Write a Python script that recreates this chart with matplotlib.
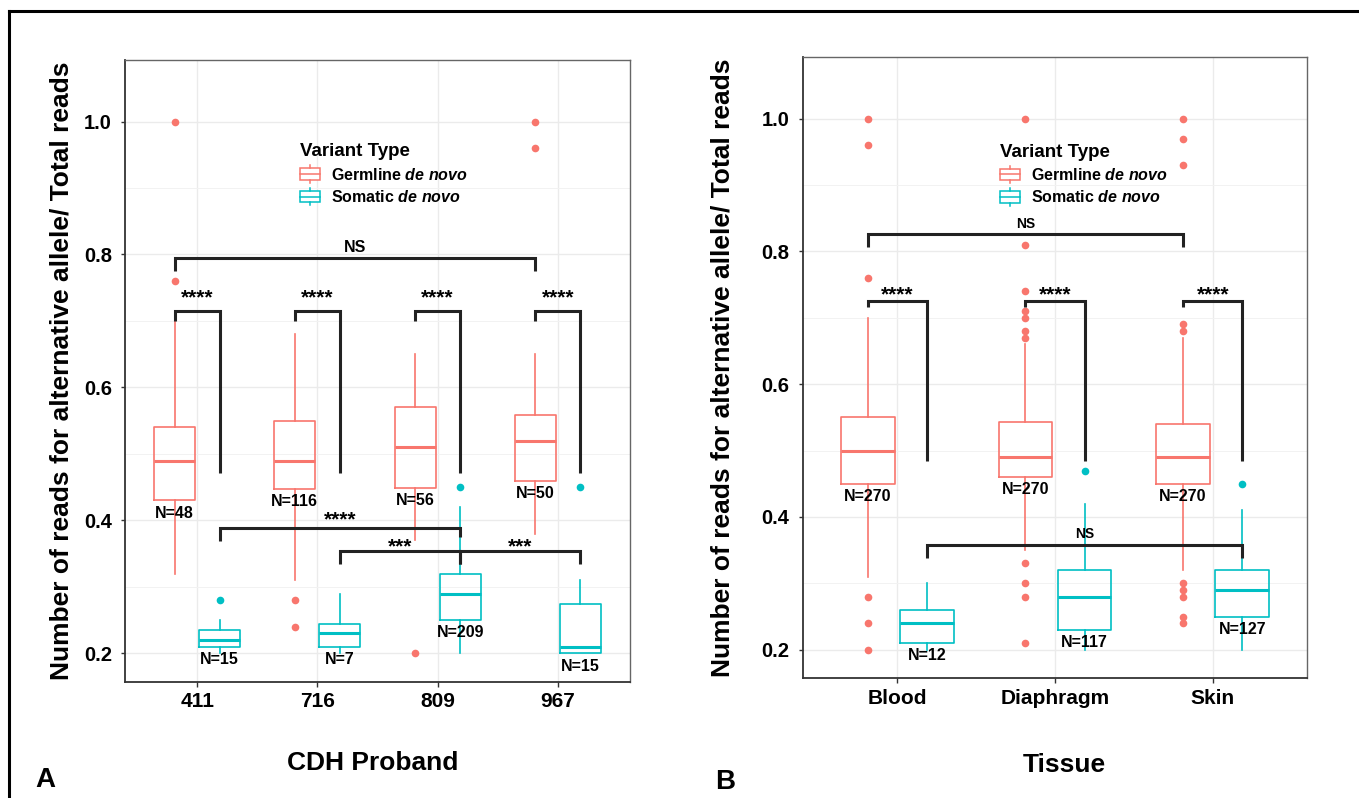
import matplotlib
matplotlib.use("Agg")
import matplotlib.pyplot as plt
from matplotlib.legend_handler import HandlerBase
from matplotlib.patches import Rectangle, Patch
from matplotlib.lines import Line2D
from matplotlib.ticker import FixedLocator

plt.rcParams['font.family'] = ['Liberation Sans', 'DejaVu Sans']
plt.rcParams['font.weight'] = 'bold'
plt.rcParams['mathtext.fontset'] = 'custom'
plt.rcParams['mathtext.it'] = 'Liberation Sans:italic:bold'
plt.rcParams['mathtext.rm'] = 'Liberation Sans:bold'

GERM = '#F8766D'
SOMA = '#00BFC4'
INK = '#222222'

# ---------------- Panel A: CDH proband ----------------
a_probands = ['411', '716', '809', '967']
a_germ_n = [48, 116, 56, 50]
a_germ_lo = [0.32, 0.31, 0.37, 0.38]
a_germ_q1 = [0.43, 0.447, 0.449, 0.46]
a_germ_med = [0.49, 0.49, 0.51, 0.52]
a_germ_q3 = [0.541, 0.549, 0.571, 0.559]
a_germ_hi = [0.70, 0.68, 0.65, 0.65]
a_germ_out = [[1.0, 0.76], [0.28, 0.24], [0.20], [1.0, 0.96]]

a_som_n = [15, 7, 209, 15]
a_som_lo = [0.20, 0.20, 0.20, 0.20]
a_som_q1 = [0.21, 0.21, 0.25, 0.20]
a_som_med = [0.22, 0.23, 0.29, 0.21]
a_som_q3 = [0.235, 0.244, 0.32, 0.274]
a_som_hi = [0.25, 0.29, 0.42, 0.31]
a_som_out = [[0.28], [], [0.45], [0.45]]

# significance brackets: (group1, side1, group2, side2, bar y, left tip, right tip, label, label y, size)
a_signif = [
    (1, -1, 1, 1, 0.715, 0.700, 0.472, '****', 0.735, 15),
    (2, -1, 2, 1, 0.715, 0.700, 0.472, '****', 0.735, 15),
    (3, -1, 3, 1, 0.715, 0.700, 0.472, '****', 0.735, 15),
    (4, -1, 4, 1, 0.715, 0.700, 0.472, '****', 0.735, 15),
    (1, -1, 4, -1, 0.795, 0.775, 0.775, 'NS', 0.810, 11.5),
    (1, 1, 3, 1, 0.388, 0.369, 0.375, '****', 0.4015, 15),
    (2, 1, 3, 1, 0.3535, 0.335, 0.335, '***', 0.3605, 15),
    (3, 1, 4, 1, 0.3535, 0.335, 0.335, '***', 0.3605, 15),
]

# ---------------- Panel B: tissue ----------------
b_tissues = ['Blood', 'Diaphragm', 'Skin']
b_germ_n = [270, 270, 270]
b_germ_lo = [0.31, 0.35, 0.32]
b_germ_q1 = [0.45, 0.46, 0.45]
b_germ_med = [0.50, 0.49, 0.49]
b_germ_q3 = [0.55, 0.543, 0.54]
b_germ_hi = [0.70, 0.66, 0.67]
b_germ_out = [[1.0, 0.96, 0.76, 0.28, 0.24, 0.20],
              [1.0, 0.81, 0.74, 0.71, 0.70, 0.68, 0.67, 0.33, 0.30, 0.28, 0.21],
              [1.0, 0.97, 0.93, 0.69, 0.68, 0.30, 0.29, 0.28, 0.25, 0.24]]

b_som_n = [12, 117, 127]
b_som_lo = [0.20, 0.20, 0.20]
b_som_q1 = [0.21, 0.23, 0.25]
b_som_med = [0.24, 0.28, 0.29]
b_som_q3 = [0.26, 0.32, 0.32]
b_som_hi = [0.30, 0.42, 0.41]
b_som_out = [[], [0.47], [0.45]]

b_signif = [
    (1, -1, 1, 1, 0.725, 0.717, 0.485, '****', 0.735, 15),
    (2, -1, 2, 1, 0.725, 0.717, 0.485, '****', 0.735, 15),
    (3, -1, 3, 1, 0.725, 0.717, 0.485, '****', 0.735, 15),
    (1, -1, 3, -1, 0.8265, 0.806, 0.806, 'NS', 0.841, 10),
    (1, 1, 3, 1, 0.3585, 0.3385, 0.3385, 'NS', 0.375, 10),
]

DODGE = 0.1875
BOX_W = 0.34


class BoxKey(HandlerBase):
    """Legend key drawn like a small boxplot glyph."""
    def create_artists(self, legend, orig_handle, xdescent, ydescent, width, height, fontsize, trans):
        c = orig_handle.get_edgecolor()
        x0, y0 = -xdescent, -ydescent
        box = Rectangle((x0, y0 + 0.17 * height), width, 0.66 * height,
                        facecolor='white', edgecolor=c, lw=1.1, transform=trans)
        mid = Line2D([x0, x0 + width], [y0 + 0.5 * height] * 2, color=c, lw=1.1, transform=trans)
        top = Line2D([x0 + width / 2] * 2, [y0 + 0.83 * height, y0 + height], color=c, lw=1.1, transform=trans)
        bot = Line2D([x0 + width / 2] * 2, [y0, y0 + 0.17 * height], color=c, lw=1.1, transform=trans)
        return [box, mid, top, bot]


def make_stats(lo, q1, med, q3, hi, out):
    return [dict(whislo=a, q1=b, med=c, q3=d, whishi=e, fliers=f)
            for a, b, c, d, e, f in zip(lo, q1, med, q3, hi, out)]


def draw_boxes(ax, stats, positions, color):
    ax.bxp(stats, positions=positions, widths=BOX_W, showcaps=False, manage_ticks=False,
           boxprops=dict(color=color, lw=1.2),
           whiskerprops=dict(color=color, lw=1.2),
           medianprops=dict(color=color, lw=2.2),
           flierprops=dict(marker='o', markerfacecolor=color, markeredgecolor='none', markersize=5.5))


def style_axes(ax, labels):
    n = len(labels)
    ax.set_xlim(0.4, n + 0.6)
    ax.set_ylim(0.157, 1.0925)
    ax.set_xticks(range(1, n + 1))
    ax.set_xticklabels(labels)
    ax.set_yticks([0.2, 0.4, 0.6, 0.8, 1.0])
    ax.set_yticklabels(['0.2', '0.4', '0.6', '0.8', '1.0'])
    ax.yaxis.set_minor_locator(FixedLocator([0.3, 0.5, 0.7, 0.9]))
    ax.tick_params(which='minor', length=0)
    ax.tick_params(axis='x', labelsize=15, length=3.5, width=1, color='#333333', pad=4)
    ax.tick_params(axis='y', labelsize=14.5, length=3, width=1, color='#333333', pad=6.5)
    for lab in ax.get_xticklabels() + ax.get_yticklabels():
        lab.set_fontweight('bold')
    ax.set_axisbelow(True)
    ax.grid(which='major', color='#EBEBEB', lw=1.0)
    ax.grid(which='minor', axis='y', color='#F2F2F2', lw=0.7)
    for side in ['left', 'bottom']:
        ax.spines[side].set_color('#333333')
        ax.spines[side].set_linewidth(1.3)
    for side in ['top', 'right']:
        ax.spines[side].set_color('#666666')
        ax.spines[side].set_linewidth(1.0)


def draw_panel(ax, labels, germ, soma, germ_n, soma_n, signif, ylab_x, xlab_xy, legend_anchor):
    pos = list(range(1, len(labels) + 1))
    gpos = [p - DODGE for p in pos]
    spos = [p + DODGE for p in pos]
    draw_boxes(ax, germ, gpos, GERM)
    draw_boxes(ax, soma, spos, SOMA)

    for p, st, n in zip(gpos, germ, germ_n):
        ax.text(p, st['q1'] - 0.019, f'N={n}', ha='center', va='center', fontsize=11.5, fontweight='bold', zorder=4)
    for p, st, n in zip(spos, soma, soma_n):
        ax.text(p, st['q1'] - 0.019, f'N={n}', ha='center', va='center', fontsize=11.5, fontweight='bold', zorder=4)

    for g1, s1, g2, s2, y, yl, yr, lab, ty, fs in signif:
        x1 = g1 + s1 * DODGE
        x2 = g2 + s2 * DODGE
        ax.plot([x1, x1, x2, x2], [yl, y, y, yr], color=INK, lw=2.2,
                solid_joinstyle='miter', solid_capstyle='butt', zorder=3)
        ax.text((x1 + x2) / 2, ty, lab, ha='center', va='center', fontsize=fs, fontweight='bold', zorder=4)

    style_axes(ax, labels)

    ax.set_ylabel('Number of reads for alternative allele/ Total reads', fontsize=19, fontweight='bold', va='center')
    ax.yaxis.set_label_coords(ylab_x, 0.5)
    ax.set_xlabel(xlab_xy[0], fontsize=19, fontweight='bold', va='center')
    ax.xaxis.set_label_coords(xlab_xy[1], xlab_xy[2])

    handles = [Patch(edgecolor=GERM, facecolor='white'), Patch(edgecolor=SOMA, facecolor='white')]
    leg = ax.legend(handles, [r'Germline $\mathit{de\ novo}$', r'Somatic $\mathit{de\ novo}$'],
                    handler_map={Patch: BoxKey()}, title='Variant Type',
                    title_fontproperties=dict(weight='bold', size=13.5),
                    prop=dict(weight='bold', size=11.5), frameon=False,
                    loc='upper left', bbox_to_anchor=legend_anchor, borderpad=0, borderaxespad=0,
                    handlelength=1.25, handleheight=1.3, handletextpad=0.7, labelspacing=0.32,
                    alignment='left')
    return leg


fig = plt.figure(figsize=(13.59, 7.98), dpi=100)
W, H = 1359, 798
axA = fig.add_axes([125 / W, 1 - 682 / H, 505 / W, 622 / H])
axB = fig.add_axes([802.7 / W, 1 - 678.3 / H, 504.6 / W, 621 / H])

germA = make_stats(a_germ_lo, a_germ_q1, a_germ_med, a_germ_q3, a_germ_hi, a_germ_out)
somA = make_stats(a_som_lo, a_som_q1, a_som_med, a_som_q3, a_som_hi, a_som_out)
germB = make_stats(b_germ_lo, b_germ_q1, b_germ_med, b_germ_q3, b_germ_hi, b_germ_out)
somB = make_stats(b_som_lo, b_som_q1, b_som_med, b_som_q3, b_som_hi, b_som_out)

draw_panel(axA, a_probands, germA, somA, a_germ_n, a_som_n, a_signif,
           (61.7 - 125) / 505, ('CDH Proband', (373 - 125) / 505, (682 - 763) / 622), (0.3465, 0.866))
draw_panel(axB, b_tissues, germB, somB, b_germ_n, b_som_n, b_signif,
           (723 - 802.7) / 504.6, ('Tissue', (1064 - 802.7) / 504.6, (678.3 - 765) / 621), (0.391, 0.861))

fig.text(45.5 / W, 1 - 780 / H, 'A', fontsize=20, fontweight='bold', ha='center', va='center')
fig.text(725 / W, 1 - 782 / H, 'B', fontsize=20, fontweight='bold', ha='center', va='center')

# outer frame (top and left edges)
fig.add_artist(Line2D([8.5 / W, 1.0], [1 - 11 / H] * 2, transform=fig.transFigure, color='black', lw=2.2))
fig.add_artist(Line2D([8.5 / W] * 2, [0.0, 1 - 11 / H], transform=fig.transFigure, color='black', lw=2.2))

fig.savefig('out.png', dpi=100)
